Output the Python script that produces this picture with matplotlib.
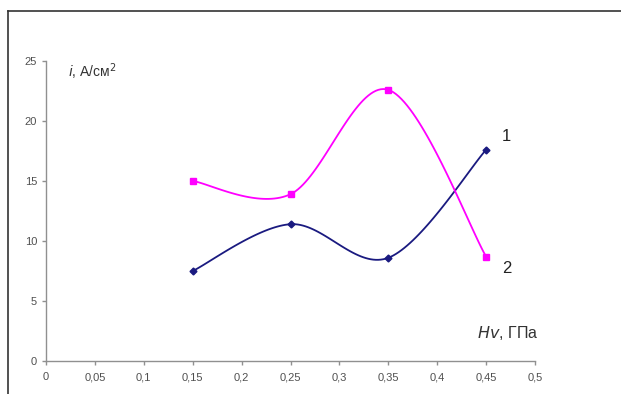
import numpy as np
import matplotlib
matplotlib.use("Agg")
import matplotlib.pyplot as plt
from matplotlib.lines import Line2D

# data
hv = [0.15, 0.25, 0.35, 0.45]
curve1 = [7.5, 11.4, 8.6, 17.6]
curve2 = [15.0, 13.9, 22.6, 8.7]
xticks = [0, 0.05, 0.1, 0.15, 0.2, 0.25, 0.3, 0.35, 0.4, 0.45, 0.5]
yticks = [0, 5, 10, 15, 20, 25]


def smooth(x, y, n=40):
    # Excel-like smoothed line (Catmull-Rom as cubic Bezier)
    p = np.column_stack([x, y]).astype(float)
    p = np.vstack([p[0], p, p[-1]])
    out = []
    t = np.linspace(0, 1, n)[:, None]
    for i in range(1, len(p) - 2):
        a, b = p[i], p[i + 1]
        c1 = a + (p[i + 1] - p[i - 1]) / 6
        c2 = b - (p[i + 2] - p[i]) / 6
        seg = ((1 - t) ** 3 * a + 3 * (1 - t) ** 2 * t * c1
               + 3 * (1 - t) * t ** 2 * c2 + t ** 3 * b)
        out.append(seg if i == 1 else seg[1:])
    out = np.vstack(out)
    return out[:, 0], out[:, 1]


plt.rcParams['font.family'] = ['Liberation Sans', 'DejaVu Sans']
fig = plt.figure(figsize=(6.21, 3.94), dpi=100)
ax = fig.add_axes([46 / 621, 1 - 361 / 394, (535 - 46) / 621, 300 / 394])

blue = '#1a1a80'
pink = '#ff00ff'
sx, sy = smooth(hv, curve1)
ax.plot(sx, sy, color=blue, lw=1.3)
ax.plot(hv, curve1, 'D', color=blue, ms=3.5, ls='none')
sx, sy = smooth(hv, curve2)
ax.plot(sx, sy, color=pink, lw=1.3)
ax.plot(hv, curve2, 's', color=pink, ms=4.5, ls='none')

ax.set_xlim(0, 0.5)
ax.set_ylim(0, 25)
ax.set_xticks(xticks)
ax.set_xticklabels([('%g' % v).replace('.', ',') for v in xticks])
ax.set_yticks(yticks)
for s in ['top', 'right']:
    ax.spines[s].set_visible(False)
for s in ['left', 'bottom']:
    ax.spines[s].set_color('#909090')
    ax.spines[s].set_linewidth(1.0)
ax.tick_params(colors='#909090', labelcolor='#505050', labelsize=8,
               length=3, width=1.0)
ax.tick_params(axis='x', pad=5)
ax.tick_params(axis='y', pad=3.5)

ax.text(0.0225, 24.1, r'$\it{i}$, А/см$^2$', fontsize=10, color='#333333',
        ha='left', va='center')
ax.text(0.5035, 2.3, r'$\it{Hv}$, ГПа', fontsize=11.5, color='#333333',
        ha='right', va='center')
ax.text(0.466, 18.7, '1', fontsize=12, color='#222222', ha='left', va='center')
ax.text(0.466, 7.7, '2', fontsize=12, color='#222222', ha='left', va='center')

# outer frame lines
fig.add_artist(Line2D([8 / 621, 1], [1 - 11 / 394, 1 - 11 / 394],
                      transform=fig.transFigure, color='#333333', lw=1.2))
fig.add_artist(Line2D([8 / 621, 8 / 621], [0, 1 - 11 / 394],
                      transform=fig.transFigure, color='#333333', lw=1.2))

fig.savefig('out.png', dpi=100)
